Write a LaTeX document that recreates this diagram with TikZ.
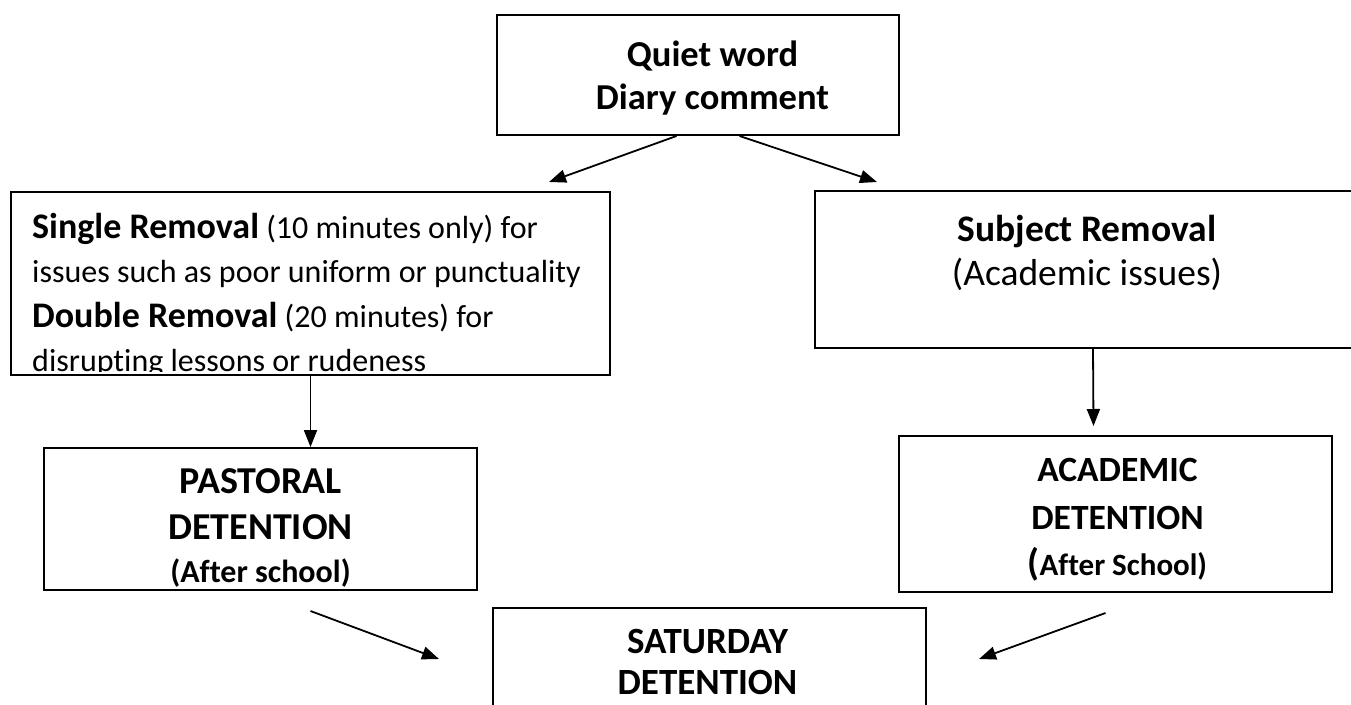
\documentclass[tikz,border=0pt]{standalone}
\usepackage{fontspec}
\setmainfont{Carlito}[RawFeature=-liga]
\usetikzlibrary{arrows.meta,calc}
\tikzset{
  box/.style={draw, line width=2pt, inner sep=0pt},
  words/.style={inner sep=0pt, align=center, anchor=north},
  flow/.style={-{Triangle[length=17pt,width=13pt]}, line width=1.8pt},
}
\begin{document}
\begin{tikzpicture}[x=1pt,y=-1pt]
\useasboundingbox (0,0) rectangle (1351,704);
% boxes
\node[box, minimum width=402, minimum height=120] (quiet) at (697.5,75) {};
\node[box, minimum width=599, minimum height=183] (single) at (310.5,283.5) {};
\node[box, minimum width=550, minimum height=157] (subject) at (1090,269.5) {};
\node[box, minimum width=433, minimum height=142] (pastoral) at (260.5,519) {};
\node[box, minimum width=433, minimum height=156] (academic) at (1115.5,514) {};
\node[box, minimum width=433, minimum height=200] (saturday) at (709.5,708) {};
% texts
\node[words, font=\bfseries\fontsize{36.5}{43}\selectfont] (quiettext) at ($(quiet.north)+(15,27)$) {Quiet word\\Diary comment};
\begin{scope}
\clip (single.north west) rectangle ($(single.south east)+(0,-5)$);
\node[inner sep=0pt, anchor=north west, align=left, font=\fontsize{32}{44.5}\selectfont] (singletext) at ($(single.north west)+(22,22)$) {{\fontsize{36}{44.5}\selectfont\bfseries Single Removal} (10 minutes only) for\\issues such as poor uniform or punctuality\\{\fontsize{36}{44.5}\selectfont\bfseries Double Removal} (20 minutes) for\\disrupting lessons or rudeness};
\end{scope}
\node[words, font=\fontsize{37.5}{44}\selectfont] (subjecttext) at ($(subject.north)+(-3,25)$) {\textbf{Subject Removal}\\(Academic issues)};
\node[words, font=\bfseries\fontsize{38}{46}\selectfont] (pastoraltext) at ($(pastoral.north)+(0,21)$) {PASTORAL\\DETENTION\\[-3pt]{\fontsize{32}{32}\selectfont(After school)}};
\node[words, font=\bfseries\fontsize{35.5}{48}\selectfont] (academictext) at ($(academic.north)+(2,23)$) {ACADEMIC\\DETENTION\\[-2pt]{\fontsize{38}{38}\selectfont(}{\fontsize{31}{31}\selectfont After School)}};
\node[words, font=\bfseries\fontsize{37}{41}\selectfont] (saturdaytext) at ($(saturday.north)+(-2,22)$) {SATURDAY\\DETENTION};
% arrows
\draw[flow] ($(quiet.south)+(-21,0)$) -- ($(single.north east)+(-62,-9)$);
\draw[flow] ($(quiet.south)+(42,0)$) -- ($(subject.north west)+(63,-8)$);
\draw[flow] (single.south) -- (single.south |- pastoral.north);
\draw[flow] ($(subject.south)+(3,0)$) -- ($(academic.north)+(-22,-9)$);
\draw[flow] ($(pastoral.south)+(50,20)$) -- ($(saturday.north west)+(-53,52)$);
\draw[flow] ($(academic.south)+(-10,20)$) -- ($(saturday.north east)+(52,52)$);
\end{tikzpicture}
\end{document}
